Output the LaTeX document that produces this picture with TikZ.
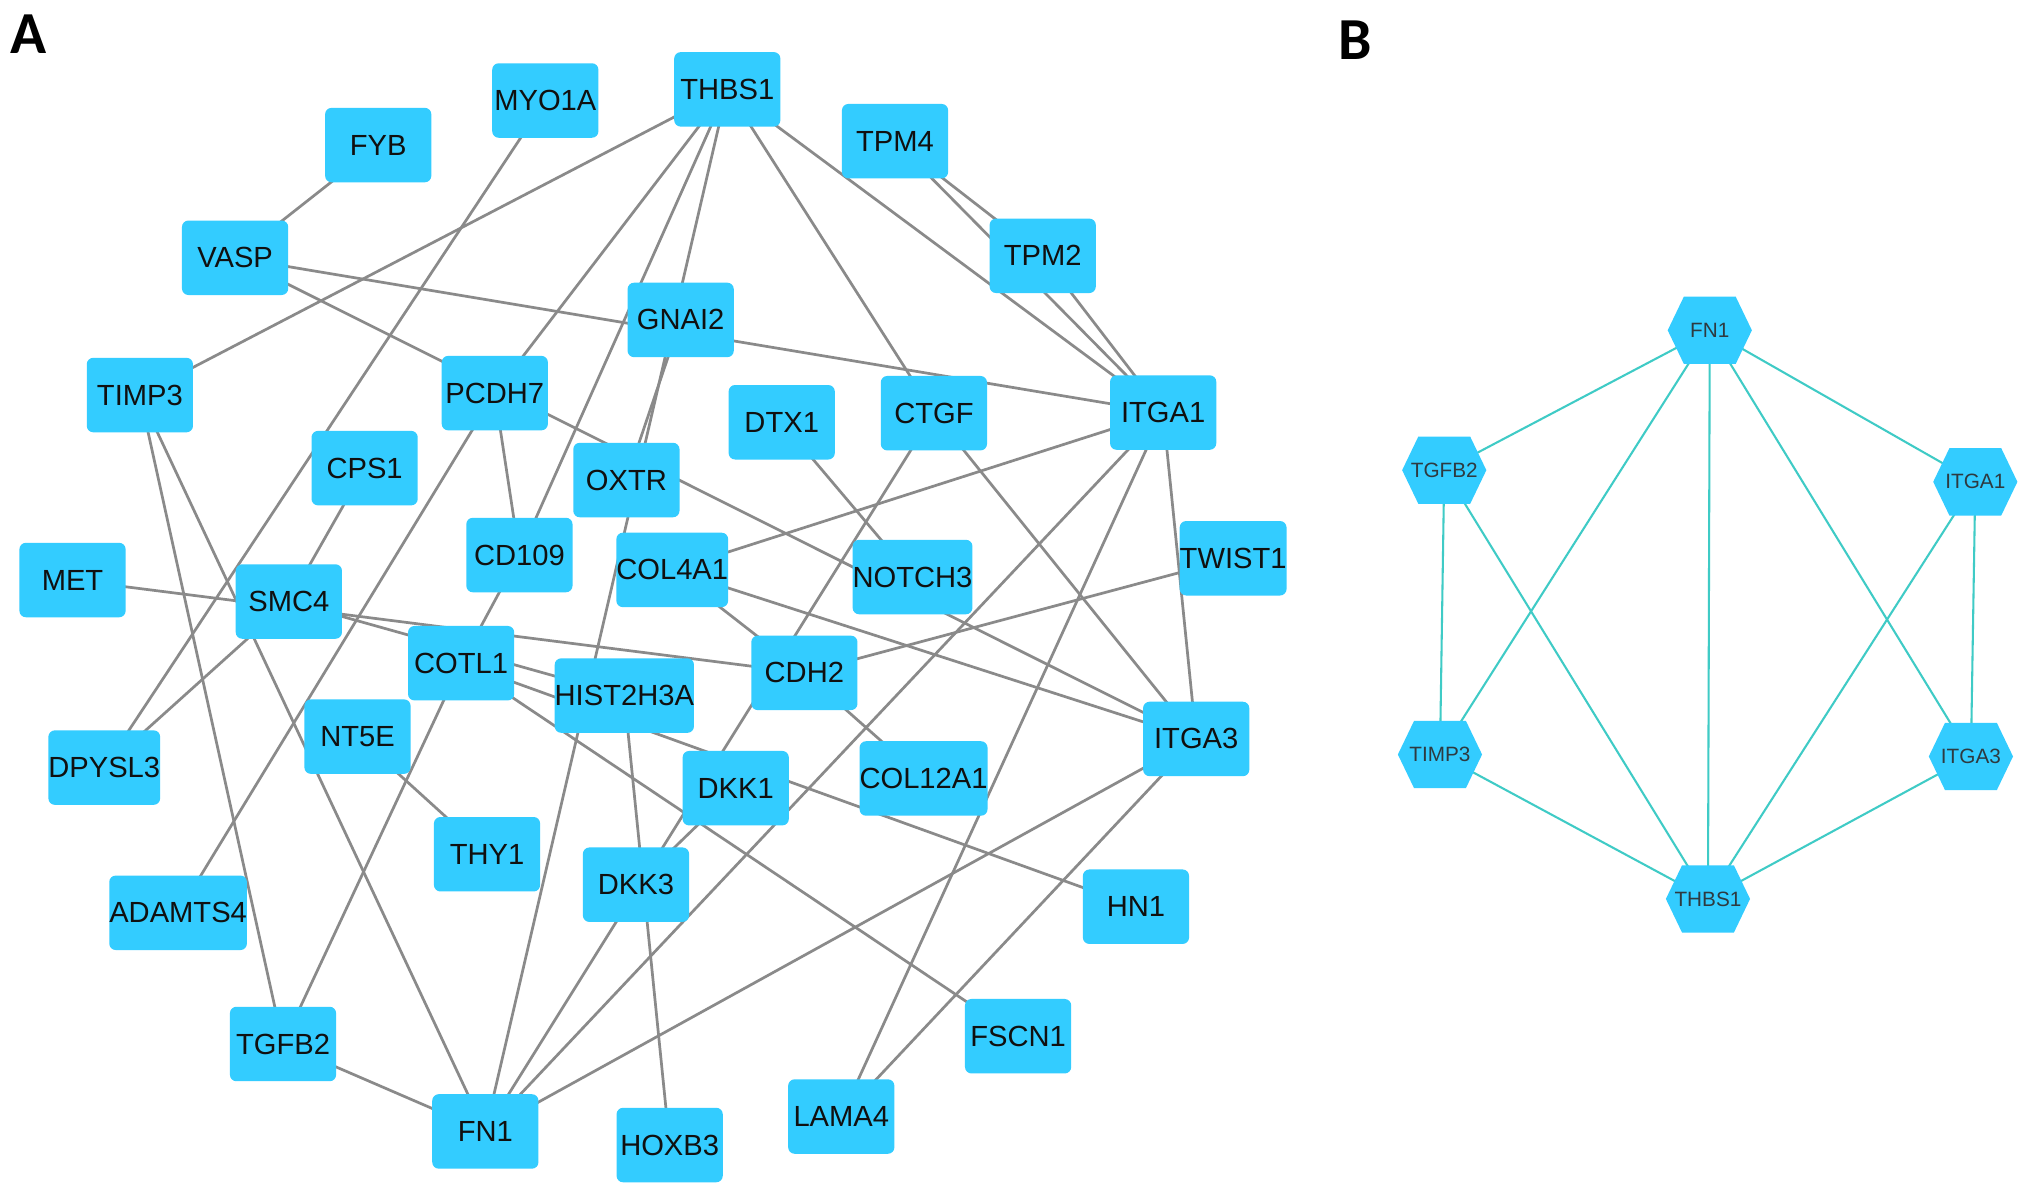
\documentclass[tikz,border=0pt]{standalone}
\usepackage{fontspec}
\setsansfont{Liberation Sans}
\newfontfamily\panelfont{Carlito}
\pgfdeclarelayer{background}
\pgfsetlayers{background,main}
\definecolor{nodeblue}{HTML}{33CCFF}
\definecolor{edgegray}{HTML}{8A8A8A}
\definecolor{edgeteal}{HTML}{3FCBC6}
\definecolor{txtdark}{HTML}{101010}
\definecolor{hextxt}{HTML}{2E3A40}
\begin{document}
\begin{tikzpicture}[x=1pt,y=-1pt,
  gene/.style={fill=nodeblue, rounded corners=5pt, minimum width=82pt, minimum height=57.5pt, inner sep=0pt, text=txtdark, font=\sffamily\fontsize{22.5pt}{27pt}\selectfont},
  glink/.style={draw=edgegray, line width=2.1pt},
  hexlabel/.style={inner sep=0pt, text=hextxt, font=\sffamily\fontsize{16pt}{19pt}\selectfont},
  tlink/.style={draw=edgeteal, line width=1.6pt},
  panel/.style={font=\panelfont\bfseries\fontsize{46pt}{54pt}\selectfont, inner sep=0pt, anchor=base west, text=black},
  hexa/.pic={\fill[nodeblue] (-32.5,0) -- (-20,-26) -- (20,-26) -- (32.5,0) -- (20,26) -- (-20,26) -- cycle;}
]
\useasboundingbox (0,0) rectangle (1568,923);

% panel labels
\node[panel] (labA) at (8,41.5) {A};
\node[panel] (labB) at (1033,46) {B};

% panel A nodes
\foreach \n/\x/\y in {FYB/292/112, MYO1A/421/77.6, THBS1/561.5/69, TPM4/691/109,
  VASP/181.5/199, TPM2/805/197.5, GNAI2/525.5/247, TIMP3/108/305, PCDH7/382/303.5,
  CTGF/721/319, ITGA1/898/318.5, DTX1/603.5/326, CPS1/281.5/361.4, OXTR/483.6/370.6,
  CD109/401/428.5, TWIST1/952/431, COL4A1/519/440, NOTCH3/704.5/445.5, MET/56/447.8,
  SMC4/223/464.4, COTL1/356/512, CDH2/621/519.5, HIST2H3A/482/537, ITGA3/923.5/570.5,
  NT5E/276/568.7, DPYSL3/80.5/592.6, DKK1/568/608.5, COL12A1/713/601, THY1/376/659.5,
  DKK3/491/683, HN1/877/700, ADAMTS4/137.5/704.7, FSCN1/786/800, TGFB2/218.5/806,
  LAMA4/649.5/862, FN1/374.7/873.5, HOXB3/517/884}
  {\node[gene] (a\n) at (\x,\y) {\n};}

% panel B nodes
\foreach \n/\x/\y in {FN1/1320/255, TGFB2/1115/363, ITGA1/1525/372,
  TIMP3/1111.7/582.5, ITGA3/1521.6/584, THBS1/1318.6/694}
  {\pic at (\x,\y) {hexa}; \node[hexlabel] (b\n) at (\x,\y) {\n};}

\begin{pgfonlayer}{background}
\fill[white] (0,0) rectangle (1568,923);
\foreach \p/\q in {FYB/VASP, VASP/ITGA1, VASP/ITGA3, THBS1/TIMP3, THBS1/PCDH7,
  THBS1/CD109, THBS1/FN1, THBS1/CTGF, THBS1/ITGA1, TPM4/TPM2, TPM4/ITGA1, TPM2/ITGA1,
  GNAI2/OXTR, CTGF/FN1, CTGF/ITGA3, ITGA1/COL4A1, ITGA1/FN1, ITGA1/LAMA4, ITGA1/ITGA3,
  TWIST1/CDH2, COL4A1/ITGA3, COL4A1/CDH2, DTX1/NOTCH3, PCDH7/CD109, PCDH7/ADAMTS4,
  CD109/COTL1, MYO1A/DPYSL3, CPS1/SMC4, SMC4/DPYSL3, MET/CDH2, SMC4/HIST2H3A,
  COTL1/HN1, COTL1/FSCN1, COTL1/TGFB2, HIST2H3A/HOXB3, CDH2/COL12A1, DKK1/DKK3,
  ITGA3/FN1, ITGA3/LAMA4, NT5E/THY1, TIMP3/TGFB2, TIMP3/FN1, TGFB2/FN1}
  {\draw[glink] (a\p.center) -- (a\q.center);}
\foreach \p/\q in {FN1/TGFB2, FN1/ITGA1, FN1/TIMP3, FN1/THBS1, FN1/ITGA3,
  TGFB2/TIMP3, TGFB2/THBS1, ITGA1/ITGA3, ITGA1/THBS1, TIMP3/THBS1, ITGA3/THBS1}
  {\draw[tlink] (b\p.center) -- (b\q.center);}
\end{pgfonlayer}
\end{tikzpicture}
\end{document}
